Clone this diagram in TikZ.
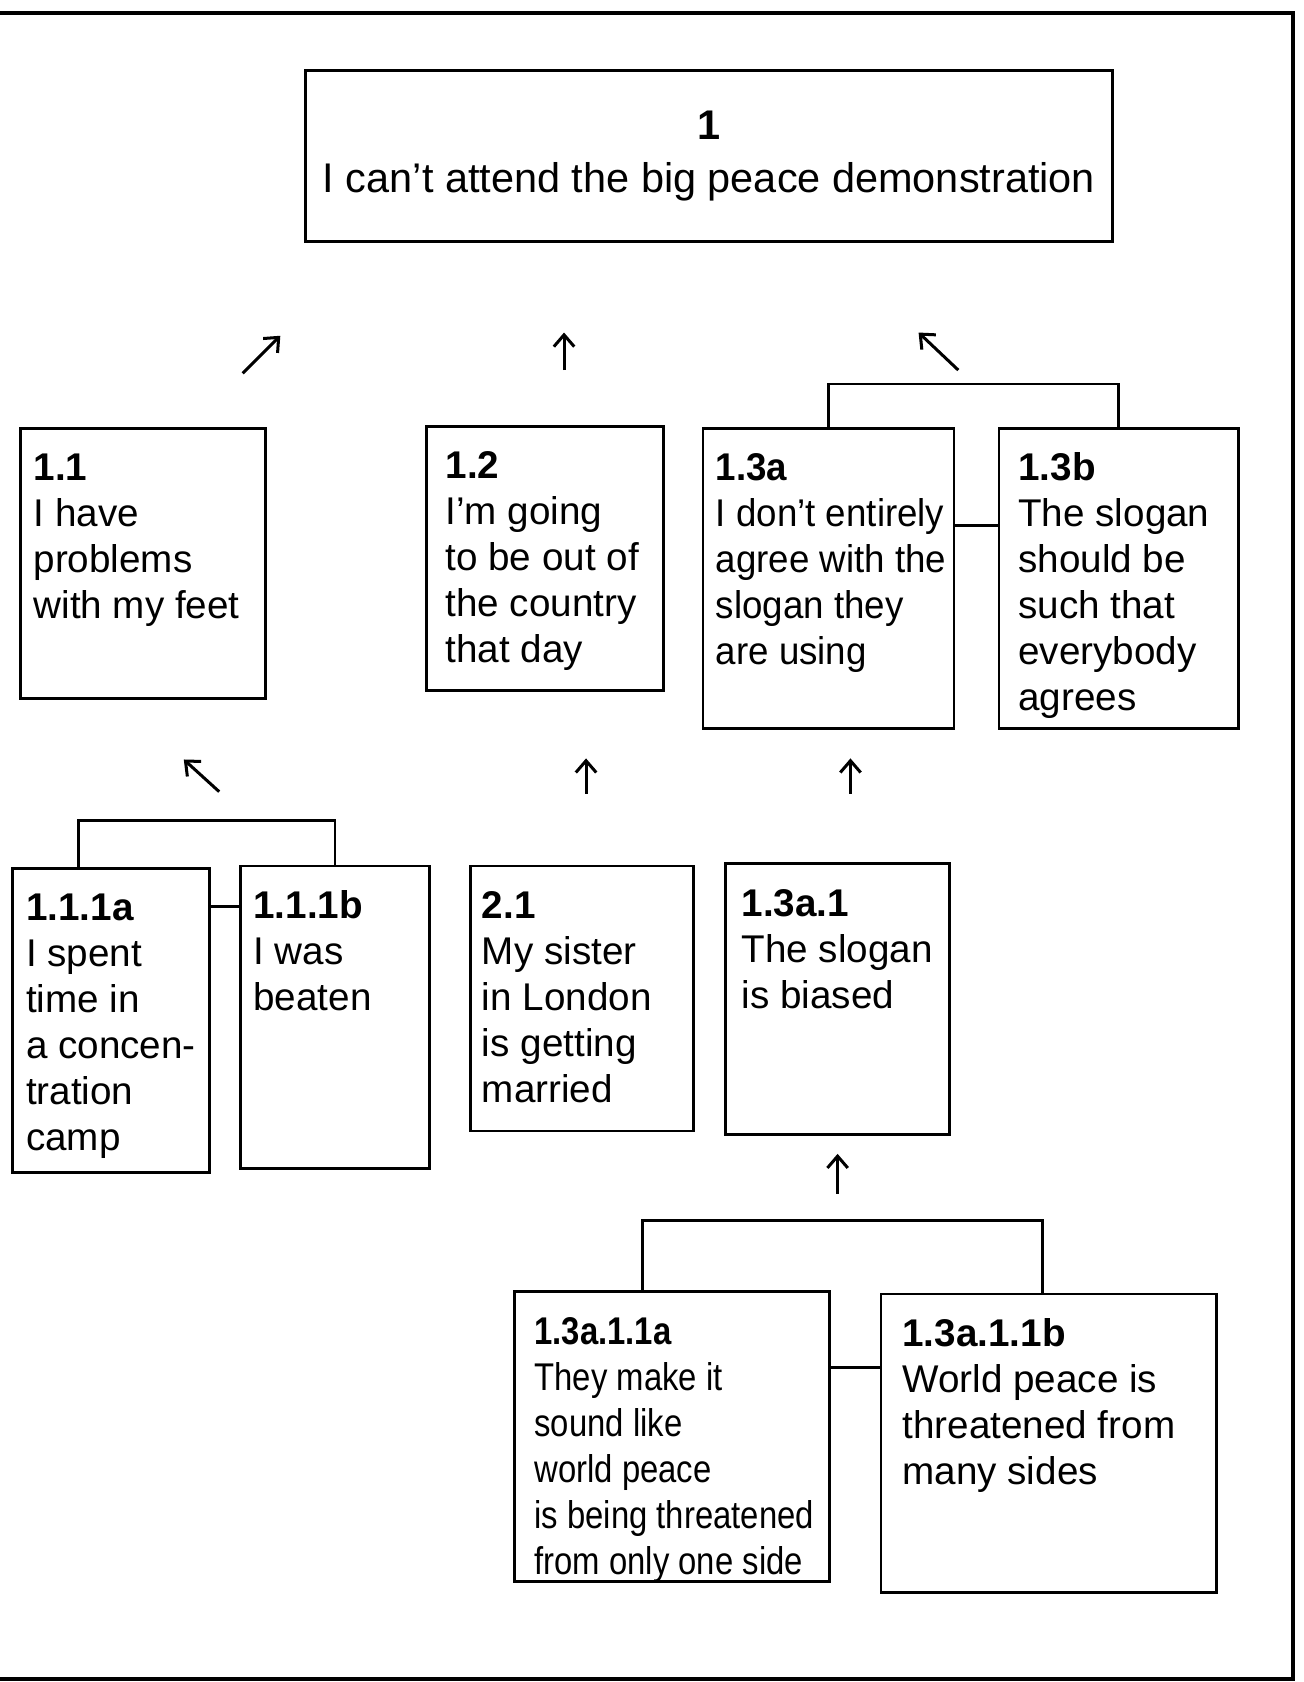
\documentclass[tikz,border=0pt]{standalone}
\usepackage{fontspec}
\setmainfont{Liberation Sans}
\newfontfamily\narrowfont[FakeStretch=0.95]{Liberation Sans}
\newfontfamily\narrowerfont[FakeStretch=0.85]{Liberation Sans}
\usetikzlibrary{
  calc,
  arrows.meta,
}
\newlength\unitpx
\setlength\unitpx{0.02cm}
% width, height, number, claim
\newcommand\argtext[4]{\parbox[t][#2\unitpx][t]{#1\unitpx}{%
    \begin{tabular}[t]{@{}l@{}}\textbf{#3}\\#4\end{tabular}}}

\begin{document}
\begin{tikzpicture}[
    x=0.02cm, y=-0.02cm,
    argbox/.style={draw, line width=1.5pt, anchor=north west, inner xsep=#1\unitpx,
        inner ysep=19\unitpx, font=\fontsize{20.5}{24.4}\selectfont},
    argbox/.default=13,
    topbox/.style={draw, line width=1.5pt, minimum width=752\unitpx, minimum height=159\unitpx,
        align=center, font=\fontsize{22}{27.8}\selectfont},
    link/.style={line width=1.5pt},
    arr/.style={line width=1.6pt, -{Straight Barb[length=2.2mm, width=3.8mm]}},
    frame/.style={line width=2pt},
  ]
  \useasboundingbox (0,0) rectangle (1215,1568);
  \draw[frame] (0,12) -- (1205,12) -- (1205,1565) -- (0,1565);

  % main standpoint
  \node[topbox] (c1) at (661,145.5) {\textbf{1}\\I can’t attend the big peace demonstration};

  % first level
  \node[argbox=12] (a11) at (18,398) {\argtext{204}{214}{1.1}{I have\\problems\\with my feet}};
  \node[argbox=18] (a12) at (396,396) {\argtext{185}{208}{1.2}{I’m going\\to be out of\\the country\\that day}};
  \node[argbox=12] (a13a) at (654,398) {\narrowfont\argtext{210}{242}{1.3a}{I don’t entirely\\agree with the\\slogan they\\are using}};
  \node[argbox=18] (a13b) at (930,398) {\argtext{187}{242}{1.3b}{The slogan\\should be\\such that\\everybody\\agrees}};

  % second level
  \node[argbox=13] (a111a) at (10,808) {\argtext{158}{246}{1.1.1a}{I spent\\time in\\a concen-\\tration\\camp}};
  \node[argbox=12] (a111b) at (223,806) {\argtext{152}{244}{1.1.1b}{I was\\beaten}};
  \node[argbox=11] (a21) at (437,806) {\argtext{186}{209}{2.1}{My sister\\in London\\is getting\\married}};
  \node[argbox=15] (a13a1) at (675,804) {\argtext{179}{214}{1.3a.1}{The slogan\\is biased}};

  % third level
  \node[argbox=19] (a13a11a) at (478,1203) {\narrowerfont\argtext{256}{232}{1.3a.1.1a}{They make it\\sound like\\world peace\\is being threatened\\from only one side}};
  \node[argbox=20] (a13a11b) at (820,1205) {\argtext{273}{240}{1.3a.1.1b}{World peace is\\threatened from\\many sides}};

  % coordinative brackets and links
  \draw[link] (a13a.north) -- ++(0,-40) -| (a13b.north);
  \coordinate (j13) at ([yshift=-92\unitpx]a13a.north east);
  \draw[link] (j13) -- (j13 -| a13b.west);

  \draw[link] ([xshift=-30\unitpx]a111a.north) -- ++(0,-43) -| (a111b.north);
  \coordinate (j111) at ([yshift=-37\unitpx]a111a.north east);
  \draw[link] (j111) -- (j111 -| a111b.west);

  \draw[link] ([xshift=-27\unitpx]a13a11a.north) -- ++(0,-65) -| ([xshift=-6\unitpx]a13a11b.north);
  \coordinate (j13a11) at ([yshift=-72\unitpx]a13a11a.north east);
  \draw[link] (j13a11) -- (j13a11 -| a13a11b.west);

  % support arrows
  \draw[arr] ([shift={(93,-50)}]a11.north) -- ++(35,-35);
  \draw[arr] ([shift={(18,-51)}]a12.north) -- ++(0,-35);
  \draw[arr] ([shift={(121,-53)}]a13a.north) -- ++(-37,-35);
  \draw[arr] ([shift={(101,-70)}]a111a.north) -- ++(-33,-30);
  \draw[arr] ([shift={(4,-66)}]a21.north) -- ++(0,-33);
  \draw[arr] ([shift={(12,-64)}]a13a1.north) -- ++(0,-33);
  \draw[arr] ([shift={(0,54)}]a13a1.south) -- ++(0,-37);
\end{tikzpicture}
\end{document}
